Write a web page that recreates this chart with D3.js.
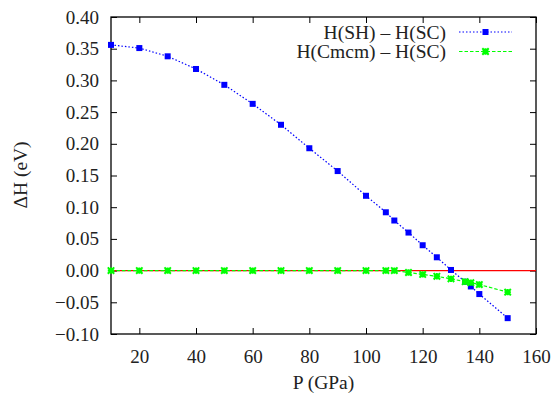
<!DOCTYPE html>
<html>
<head>
<meta charset="utf-8">
<script src="https://cdn.jsdelivr.net/npm/d3@7"></script>
<style>
  body { margin: 0; background: #fff; }
</style>
</head>
<body>
<div id="chart"></div>
<script>
var svgWidth = 554;
var svgHeight = 394;
var serifFont = "'Liberation Serif', 'Times New Roman', Times, 'Nimbus Roman', 'DejaVu Serif', serif";

var margin = { top: 17, right: 18, bottom: 60, left: 111 };

var width = svgWidth - margin.left - margin.right;
var height = svgHeight - margin.top - margin.bottom;

// data
var pressure = [10, 20, 30, 40, 50, 60, 70, 80, 90, 100, 107, 110, 115, 120, 125, 130, 135, 137, 140, 150];
var shMinusSc = [0.356, 0.351, 0.338, 0.318, 0.293, 0.263, 0.230, 0.193, 0.157, 0.118, 0.092, 0.079,
  0.060, 0.040, 0.021, 0.001, -0.0175, -0.025, -0.037, -0.075];
var cmcmMinusSc = [0, 0, 0, 0, 0, 0, 0, 0, 0, 0, 0, 0,
  -0.003, -0.006, -0.009, -0.013, -0.0175, -0.019, -0.022, -0.034];

var xTicks = [20, 40, 60, 80, 100, 120, 140, 160];
var yTicks = [-0.10, -0.05, 0.00, 0.05, 0.10, 0.15, 0.20, 0.25, 0.30, 0.35, 0.40];

var seriesNames = ["H(SH) \u2013 H(SC)", "H(Cmcm) \u2013 H(SC)"];

var svg = d3.select("#chart")
  .append("svg")
  .attr("width", svgWidth)
  .attr("height", svgHeight)
  .attr("font-family", serifFont);

var chartGroup = svg.append("g")
  .attr("transform", `translate(${margin.left}, ${margin.top})`);

var xScale = d3.scaleLinear().domain([10, 160]).range([0, width]);
var yScale = d3.scaleLinear().domain([-0.1, 0.4]).range([height, 0]);

var fmtY = function(d) { return d3.format(".2f")(d).replace("-", "\u2212"); };

// axes with inward ticks, mirrored on top / right
function styleAxis(g) {
  g.attr("font-family", serifFont);
  g.select(".domain").remove();
  g.selectAll(".tick line").attr("stroke", "#000").attr("stroke-width", 1);
  g.selectAll(".tick text")
    .attr("font-family", serifFont)
    .attr("font-size", 19)
    .attr("fill", "#222");
}

chartGroup.append("g")
  .attr("transform", `translate(0, ${height})`)
  .call(d3.axisBottom(xScale).tickValues(xTicks).tickSizeInner(-6).tickSizeOuter(0).tickPadding(16))
  .call(styleAxis);

chartGroup.append("g")
  .call(d3.axisTop(xScale).tickValues(xTicks).tickSizeInner(-6).tickSizeOuter(0).tickFormat(""))
  .call(styleAxis);

chartGroup.append("g")
  .call(d3.axisLeft(yScale).tickValues(yTicks).tickSizeInner(-6).tickSizeOuter(0).tickPadding(12).tickFormat(fmtY))
  .call(styleAxis);

chartGroup.append("g")
  .attr("transform", `translate(${width}, 0)`)
  .call(d3.axisRight(yScale).tickValues(yTicks).tickSizeInner(-6).tickSizeOuter(0).tickFormat(""))
  .call(styleAxis);

// frame
chartGroup.append("rect")
  .attr("width", width)
  .attr("height", height)
  .attr("fill", "none")
  .attr("stroke", "#000")
  .attr("stroke-width", 1.3);

// zero line
chartGroup.append("line")
  .attr("x1", 0)
  .attr("x2", width)
  .attr("y1", yScale(0))
  .attr("y2", yScale(0))
  .attr("stroke", "#ff0000")
  .attr("stroke-width", 1.2);

var line = d3.line()
  .x(d => xScale(d[0]))
  .y(d => yScale(d[1]));

var blueData = pressure.map((p, i) => [p, shMinusSc[i]]);
var greenData = pressure.map((p, i) => [p, cmcmMinusSc[i]]);

function asterisk(s) {
  return `M${-s},0L${s},0M0,${-s}L0,${s}M${-s},${-s}L${s},${s}M${-s},${s}L${s},${-s}`;
}

// blue series
chartGroup.append("path")
  .datum(blueData)
  .attr("d", line)
  .attr("fill", "none")
  .attr("stroke", "#0000ff")
  .attr("stroke-width", 1.2)
  .attr("stroke-dasharray", "1.5,2");

chartGroup.selectAll(".blue-pt")
  .data(blueData)
  .enter()
  .append("rect")
  .attr("class", "blue-pt")
  .attr("x", d => xScale(d[0]) - 3)
  .attr("y", d => yScale(d[1]) - 3)
  .attr("width", 6)
  .attr("height", 6)
  .attr("fill", "#0000ff");

// green series
chartGroup.append("path")
  .datum(greenData)
  .attr("d", line)
  .attr("fill", "none")
  .attr("stroke", "#00ff00")
  .attr("stroke-width", 1.2)
  .attr("stroke-dasharray", "3.5,2");

chartGroup.selectAll(".green-pt")
  .data(greenData)
  .enter()
  .append("path")
  .attr("class", "green-pt")
  .attr("transform", d => `translate(${xScale(d[0])}, ${yScale(d[1])})`)
  .attr("d", asterisk(3.2))
  .attr("fill", "none")
  .attr("stroke", "#00ff00")
  .attr("stroke-width", 2);

// legend
var legend = svg.append("g");
var legendRows = [
  { name: seriesNames[0], color: "#0000ff", dash: "1.5,2", y: 32 },
  { name: seriesNames[1], color: "#00ff00", dash: "3.5,2", y: 51.5 }
];

legendRows.forEach(function(r, i) {
  legend.append("text")
    .attr("x", 446)
    .attr("y", r.y + 6.5)
    .attr("text-anchor", "end")
    .attr("font-size", 19.5)
    .attr("fill", "#222")
    .text(r.name);
  legend.append("line")
    .attr("x1", 459)
    .attr("x2", 512)
    .attr("y1", r.y)
    .attr("y2", r.y)
    .attr("stroke", r.color)
    .attr("stroke-width", 1.2)
    .attr("stroke-dasharray", r.dash);
  if (i === 0) {
    legend.append("rect")
      .attr("x", 485.5 - 3)
      .attr("y", r.y - 3)
      .attr("width", 6)
      .attr("height", 6)
      .attr("fill", r.color);
  } else {
    legend.append("path")
      .attr("transform", `translate(485.5, ${r.y})`)
      .attr("d", asterisk(3.2))
      .attr("fill", "none")
      .attr("stroke", r.color)
      .attr("stroke-width", 2);
  }
});

// axis labels
svg.append("text")
  .attr("x", margin.left + width / 2)
  .attr("y", 389)
  .attr("text-anchor", "middle")
  .attr("font-size", 19.5)
  .attr("fill", "#222")
  .text("P (GPa)");

svg.append("text")
  .attr("transform", "rotate(-90)")
  .attr("x", -175)
  .attr("y", 27)
  .attr("text-anchor", "middle")
  .attr("font-size", 19.5)
  .attr("fill", "#222")
  .text("\u0394H (eV)");
</script>
</body>
</html>
